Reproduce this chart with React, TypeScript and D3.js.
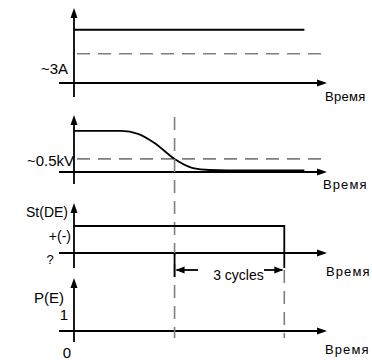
import React from 'react';
import * as d3 from 'd3';

const W = 372;
const H = 360;

// time in cycles
const tEnd = 7;
const tCross = 2.75; // voltage drops below ~0.5kV
const tTrip = 5.75; // tCross + 3 cycles
const tLineEnd = 6.3;

// panel 1: current
const currentLevel = 7.1;
const currentThreshold = 3.9;

// panel 2: voltage curve
const voltT = [0, 1.3, 1.75, 2.2, 2.75, 3.25, 3.7, 4.2, 6.3];
const voltV = [0.72, 0.72, 0.67, 0.51, 0.23, 0.07, 0.035, 0.03, 0.03];
const voltThreshold = 0.23;

// panel 3: St(DE) step
const stT = [0, tTrip, tTrip];
const stV = [1, 1, -0.56];

const timeLabel = 'Время';

const FONT = '"Liberation Sans", Arial, sans-serif';

function App() {
  const x = d3.scaleLinear().domain([0, tEnd]).range([74, 330]);
  const axisStart = 59;
  const axisEnd = 327;

  const y1 = d3.scaleLinear().domain([0, 10]).range([83, 8]);
  const y2 = d3.scaleLinear().domain([0, 1]).range([172, 115]);
  const y3 = d3.scaleLinear().domain([0, 1]).range([253, 226]);

  const voltLine = d3.line<number>()
    .x((_, i) => x(voltT[i]))
    .y(d => y2(d))
    .curve(d3.curveMonotoneX);

  const stLine = d3.line<number>()
    .x((_, i) => x(stT[i]))
    .y(d => y3(d));

  const axes = [
    { y0: 83, top: 8, bottom: 97 },
    { y0: 172, top: 115, bottom: 184 },
    { y0: 253, top: 203, bottom: 268 },
    { y0: 331, top: 278, bottom: 342 },
  ];

  const ax = x(0);
  const dashColor = '#7f7f7f';

  return (
    <div style={{ position: 'absolute', left: 0, top: 0 }}>
      <svg width={W} height={H} style={{ display: 'block', background: '#fff' }} fontFamily={FONT}>
        {axes.map((a, i) => (
          <g key={i}>
            <line x1={axisStart} x2={axisEnd - 6} y1={a.y0} y2={a.y0} stroke="#000" strokeWidth={1.8} />
            <path d={`M${axisEnd},${a.y0} L${axisEnd - 10},${a.y0 - 3.5} L${axisEnd - 10},${a.y0 + 3.5} Z`} fill="#000" />
            <line x1={ax} x2={ax} y1={a.top + 6} y2={a.bottom} stroke="#000" strokeWidth={1.8} />
            <path d={`M${ax},${a.top} L${ax - 3.5},${a.top + 10} L${ax + 3.5},${a.top + 10} Z`} fill="#000" />
          </g>
        ))}

        {/* panel 1 */}
        <line x1={ax} x2={x(tLineEnd)} y1={y1(currentLevel)} y2={y1(currentLevel)} stroke="#000" strokeWidth={1.8} />
        <line x1={ax + 3} x2={axisEnd} y1={y1(currentThreshold)} y2={y1(currentThreshold)} stroke={dashColor} strokeWidth={1.6} strokeDasharray="13,8" />
        <text x={68} y={74} fontSize={15} textAnchor="end">~3A</text>
        <text x={325} y={101} fontSize={13} letterSpacing={0.3}>{timeLabel}</text>

        {/* panel 2 */}
        <line x1={ax + 3} x2={axisEnd} y1={y2(voltThreshold)} y2={y2(voltThreshold)} stroke={dashColor} strokeWidth={1.6} strokeDasharray="13,8" />
        <path d={voltLine(voltV) || ''} fill="none" stroke="#000" strokeWidth={1.8} />
        <text x={74} y={166} fontSize={15} textAnchor="end">~0.5kV</text>
        <text x={323} y={189} fontSize={13} letterSpacing={1.1}>{timeLabel}</text>

        {/* vertical dashed markers */}
        <line x1={x(tCross)} x2={x(tCross)} y1={117} y2={338} stroke={dashColor} strokeWidth={1.6} strokeDasharray="13,8" />
        <line x1={x(tTrip)} x2={x(tTrip)} y1={270} y2={338} stroke={dashColor} strokeWidth={1.6} strokeDasharray="13,8" />

        {/* panel 3 */}
        <path d={stLine(stV) || ''} fill="none" stroke="#000" strokeWidth={1.8} />
        <text x={68} y={217} fontSize={14} textAnchor="end">St(DE)</text>
        <text x={71} y={241} fontSize={14} textAnchor="end">+(-)</text>
        <text x={50} y={264} fontSize={13} textAnchor="middle">?</text>
        <text x={326} y={276} fontSize={13} letterSpacing={1.1}>{timeLabel}</text>

        {/* 3 cycles dimension */}
        <line x1={x(tCross)} x2={x(tCross)} y1={253} y2={277} stroke="#000" strokeWidth={1.8} />
        <line x1={x(tCross) + 2} x2={198} y1={270} y2={270} stroke="#000" strokeWidth={1.8} />
        <path d={`M${x(tCross) + 1},270 L${x(tCross) + 10},266.5 L${x(tCross) + 10},273.5 Z`} fill="#000" />
        <line x1={264} x2={x(tTrip) - 2} y1={270} y2={270} stroke="#000" strokeWidth={1.8} />
        <path d={`M${x(tTrip) - 1},270 L${x(tTrip) - 10},266.5 L${x(tTrip) - 10},273.5 Z`} fill="#000" />
        <text x={(x(tCross) + x(tTrip)) / 2 + 9} y={280} fontSize={14} textAnchor="middle">3 cycles</text>

        {/* panel 4 */}
        <text x={64} y={303} fontSize={15} textAnchor="end">P(E)</text>
        <text x={64} y={320} fontSize={15} textAnchor="middle">1</text>
        <text x={67} y={358} fontSize={15} textAnchor="middle">0</text>
        <text x={325} y={354} fontSize={13} letterSpacing={1.1}>{timeLabel}</text>
      </svg>
    </div>
  );
}

export default App;
